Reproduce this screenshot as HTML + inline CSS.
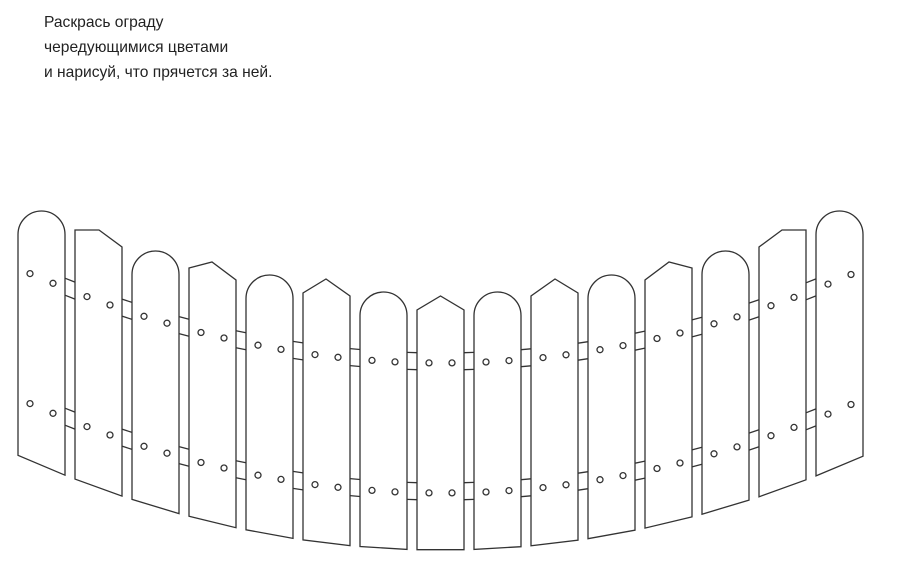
<!DOCTYPE html>
<html><head><meta charset="utf-8">
<style>
html,body{margin:0;padding:0;background:#fff;width:898px;height:568px;overflow:hidden}
.t{position:absolute;left:44px;top:10px;font-family:"Liberation Sans",sans-serif;font-size:15.6px;line-height:25px;color:#222}
svg{position:absolute;left:0;top:0}
</style></head><body>
<div class="t">Раскрась ограду<br>чередующимися цветами<br>и нарисуй, что прячется за ней.</div>
<svg id="s" width="898" height="568" viewBox="0 0 898 568"></svg>
<script>
var k=0.000528, C=441.5, out='';
function bot(x){return 550-k*(x-C)*(x-C);}
function hc(x){return 363-k*(x-C)*(x-C);}
var arcTop={0:211,2:251,4:275,6:292,8:292,10:275,12:251,14:211};
var pts={1:[[0,230],[24,230],[47,247]],3:[[0,268],[23,262],[47,280]],5:[[0,293],[23,279],[47,296]],7:[[0,310],[23.5,296],[47,310]]};
var st='fill="#fff" stroke="#333" stroke-width="1.3"';
for(var i=0;i<14;i++){
  var a=18+57*i+47, b=18+57*(i+1);
  [-10,7,120,137].forEach(function(o){
    out+='<line x1="'+a+'" y1="'+(hc(a)+o).toFixed(1)+'" x2="'+b+'" y2="'+(hc(b)+o).toFixed(1)+'" stroke="#333" stroke-width="1.3"/>';
  });
}
for(var i=0;i<15;i++){
  var L=18+57*i, R=L+47, d;
  var bl=bot(L).toFixed(1), br=bot(R).toFixed(1);
  if(arcTop[i]!==undefined){
    var t=arcTop[i], r=23.5;
    d='M'+L+','+bl+' L'+L+','+(t+r)+' A'+r+','+r+' 0 0 1 '+R+','+(t+r)+' L'+R+','+br+' Z';
  } else {
    var p=pts[i<8?i:14-i];
    if(i>7){p=p.map(function(q){return [47-q[0],q[1]];}).reverse();}
    d='M'+L+','+bl;
    p.forEach(function(q){d+=' L'+(L+q[0])+','+q[1];});
    d+=' L'+R+','+br+' Z';
  }
  out+='<path d="'+d+'" '+st+'/>';
  var x1=L+12, x2=L+35;
  [0,130].forEach(function(o){
    out+='<circle cx="'+x1+'" cy="'+(hc(x1)+o).toFixed(1)+'" r="3" '+st+'/>';
    out+='<circle cx="'+x2+'" cy="'+(hc(x2)+o).toFixed(1)+'" r="3" '+st+'/>';
  });
}
document.getElementById('s').innerHTML=out;
</script>
</body></html>
